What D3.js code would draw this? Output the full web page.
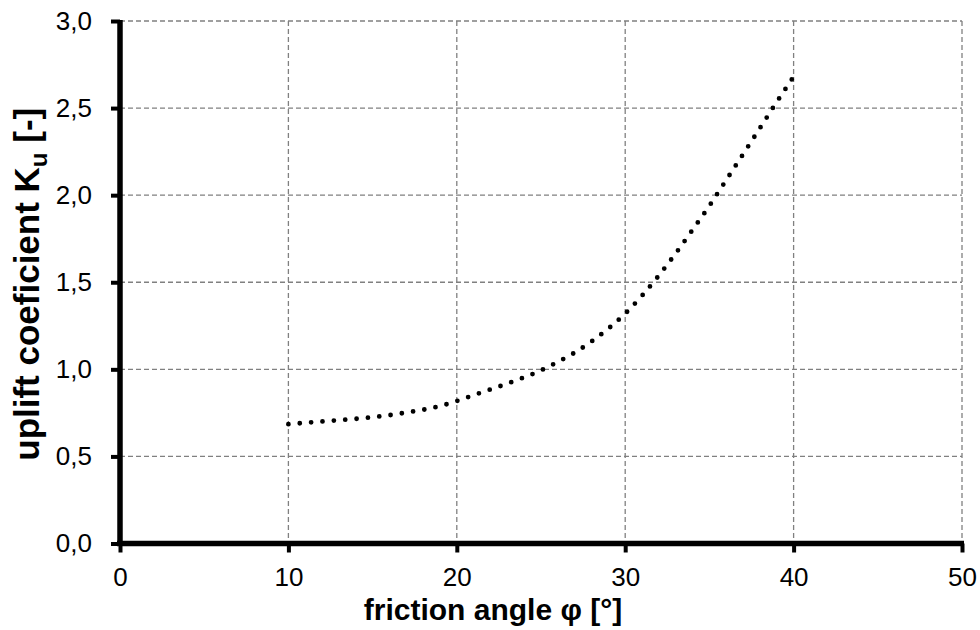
<!DOCTYPE html>
<html><head><meta charset="utf-8">
<script src="https://cdn.jsdelivr.net/npm/d3@7"></script>
<style>body{margin:0;background:#fff}svg{display:block}text{font-family:"Liberation Sans",Arial,sans-serif}</style>
</head><body>
<svg id="c" width="980" height="630"></svg>
<script>
const phi = [10,11,12,13,14,15,16,17,18,19,20,21,22,23,24,25,26,27,28,29,30,31,32,33,34,35,36,37,38,39,40];
const Ku  = [0.685,0.693,0.701,0.708,0.716,0.725,0.737,0.752,0.768,0.789,0.818,0.852,0.885,0.918,0.954,0.994,1.043,1.096,1.160,1.234,1.320,1.423,1.539,1.666,1.801,1.939,2.087,2.235,2.385,2.535,2.680];
const xTicks = [0,10,20,30,40,50];
const yTicks = [0,0.5,1.0,1.5,2.0,2.5,3.0];

const svg = d3.select("#c");
const L=120, R=962, T=21, B=543.5;
const x = d3.scaleLinear().domain([0,50]).range([L,R]);
const y = d3.scaleLinear().domain([0,3]).range([B,T]);
const fmt = d => d3.format(".1f")(d).replace(".",",");

// grid
const g = svg.append("g");
g.selectAll(".gx").data(xTicks.filter(d=>d>0)).enter().append("line")
  .attr("x1",d=>x(d)).attr("x2",d=>x(d)).attr("y1",T).attr("y2",B)
  .attr("stroke","#808080").attr("stroke-width",1.3).attr("stroke-dasharray","5,3");
g.selectAll(".gy").data(yTicks.filter(d=>d>0)).enter().append("line")
  .attr("x1",L).attr("x2",R).attr("y1",d=>y(d)).attr("y2",d=>y(d))
  .attr("stroke","#808080").attr("stroke-width",1.3).attr("stroke-dasharray","5,3");

// curve
const line = d3.line().x((d,i)=>x(phi[i])).y((d,i)=>y(Ku[i])).curve(d3.curveMonotoneX);
svg.append("path").attr("d",line(Ku)).attr("fill","none").attr("stroke","#000")
  .attr("stroke-width",4.8).attr("stroke-linecap","round").attr("stroke-dasharray","0,11.4");

// axes
const xa = svg.append("g").attr("transform",`translate(0,${B})`)
  .call(d3.axisBottom(x).tickValues(xTicks).tickSize(9).tickSizeOuter(0).tickPadding(15).tickFormat(d3.format("d")));
const ya = svg.append("g").attr("transform",`translate(${L},0)`)
  .call(d3.axisLeft(y).tickValues(yTicks).tickSize(9).tickSizeOuter(0).tickPadding(19).tickFormat(fmt));
[xa,ya].forEach(a=>{
  a.select(".domain").attr("stroke","#000").attr("stroke-width",5.5);
  a.selectAll(".tick line").attr("stroke","#000").attr("stroke-width",4);
  a.selectAll(".tick text").attr("font-size",26).attr("fill","#000").attr("font-family","Liberation Sans, Arial, sans-serif");
});
ya.select(".domain").attr("d",`M0,${B+2.5}V${T-1}`);
xa.select(".domain").attr("d",`M${L-3},0H${R+2}`);

// titles
svg.append("text").attr("x",493).attr("y",620).attr("text-anchor","middle")
  .attr("font-size",30).attr("font-weight","bold").text("friction angle φ [°]");
const yt = svg.append("text").attr("transform",`translate(39,${(T+B)/2+2}) rotate(-90)`)
  .attr("text-anchor","middle").attr("font-size",35).attr("font-weight","bold");
yt.append("tspan").text("uplift coeficient K");
yt.append("tspan").attr("dy",8).attr("font-size",24).text("u");
yt.append("tspan").attr("dy",-8).text(" [-]");
</script>
</body></html>
